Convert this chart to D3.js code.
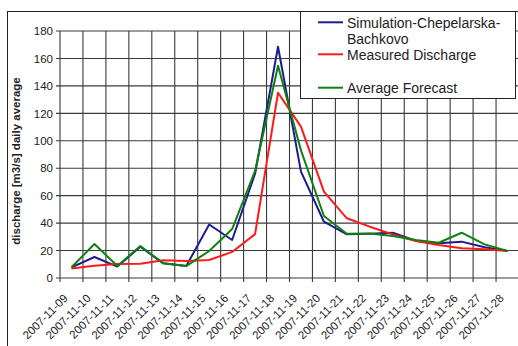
<!DOCTYPE html>
<meta charset="utf-8">
<script src="https://d3js.org/d3.v7.min.js"></script>
<style type="text/css">
body { margin: 0; background: #fff; }
svg { font-family: "Liberation Sans", Arial, sans-serif; display: block; }
</style>
<body>
</body>
<script>

// daily values
var dates = ["2007-11-09", "2007-11-10", "2007-11-11", "2007-11-12", "2007-11-13",
  "2007-11-14", "2007-11-15", "2007-11-16", "2007-11-17", "2007-11-18",
  "2007-11-19", "2007-11-20", "2007-11-21", "2007-11-22", "2007-11-23",
  "2007-11-24", "2007-11-25", "2007-11-26", "2007-11-27", "2007-11-28"];

var simulation = [7.8, 15.3, 8.3, 22.8, 10.7, 8.7, 39, 27.7, 76, 168.5,
  77.5, 41, 31.8, 32.3, 33, 27.2, 25.3, 26.5, 22.4, 19.7];
var measured = [7, 9, 10.2, 10.4, 12.9, 12.4, 13.1, 19, 32, 135,
  110.3, 62.9, 43.5, 37.4, 31.8, 27, 24, 21.6, 20.9, 19.7];
var forecast = [7.8, 24.8, 8.7, 23.3, 10.7, 8.7, 19.7, 35.7, 78, 154.7,
  93, 45.2, 32.3, 32.5, 30.6, 27.7, 25.7, 33, 24.5, 19.7];

var yTicks = [0, 20, 40, 60, 80, 100, 120, 140, 160, 180];

var series = [
  {name: ["Simulation-Chepelarska-", "Bachkovo"], values: simulation, color: "#1c1c8c"},
  {name: ["Measured Discharge"], values: measured, color: "#ff1a1a"},
  {name: ["Average Forecast"], values: forecast, color: "#108010"}
];

var width = 518, height = 346;
var plotLeft = 60, plotTop = 31, plotBottom = 278, plotRight = 519;

var svg = d3.select("body").append("svg")
    .attr("width", width)
    .attr("height", height);

// outer frame
svg.append("rect")
    .attr("x", 7.5).attr("y", 11.5)
    .attr("width", 530).attr("height", 360)
    .attr("fill", "none").attr("stroke", "#222");

var x = d3.scaleBand().domain(dates).range([plotLeft, plotRight]);
var y = d3.scaleLinear().domain([0, 180]).range([plotBottom, plotTop]);

// grid
var grid = svg.append("g").attr("stroke", "#3a3a3a").attr("stroke-width", 1.1);
grid.selectAll(".hgrid")
  .data(yTicks)
  .enter().append("line")
    .attr("x1", plotLeft - 4).attr("x2", plotRight)
    .attr("y1", function(d) { return y(d); })
    .attr("y2", function(d) { return y(d); });

var bounds = dates.map(function(d) { return x(d); }).concat([plotRight]);
grid.selectAll(".vgrid")
  .data(bounds)
  .enter().append("line")
    .attr("x1", function(d) { return d; })
    .attr("x2", function(d) { return d; })
    .attr("y1", plotTop).attr("y2", plotBottom + 4);

// y axis labels
svg.append("g")
    .attr("transform", "translate(" + plotLeft + ",0)")
    .call(d3.axisLeft(y).tickValues(yTicks).tickSize(0).tickPadding(7))
    .call(function(g) { g.select(".domain").remove(); })
    .selectAll("text")
    .attr("font-size", 11.5)
    .attr("font-family", "Liberation Sans, Arial, sans-serif")
    .attr("fill", "#222");

// x axis labels
svg.append("g")
    .attr("transform", "translate(0," + plotBottom + ")")
    .call(d3.axisBottom(x).tickSize(0))
    .call(function(g) { g.select(".domain").remove(); })
    .selectAll("text")
    .attr("font-size", 11.5)
    .attr("font-family", "Liberation Sans, Arial, sans-serif")
    .attr("fill", "#222")
    .attr("text-anchor", "end")
    .attr("dy", null)
    .attr("y", 0)
    .attr("transform", "translate(-3,21) rotate(-45)");

// axis title
svg.append("text")
    .attr("transform", "translate(20," + 161 + ") rotate(-90)")
    .attr("text-anchor", "middle")
    .attr("font-size", 11.5)
    .attr("font-weight", "bold")
    .attr("fill", "#222")
    .text("discharge [m3/s] daily average");

// lines
var line = d3.line()
    .x(function(d, i) { return x(dates[i]) + x.bandwidth() / 2; })
    .y(function(d) { return y(d); });

svg.selectAll(".series")
  .data(series)
  .enter().append("path")
    .attr("class", "series")
    .attr("fill", "none")
    .attr("stroke", function(d) { return d.color; })
    .attr("stroke-width", 2)
    .attr("stroke-linejoin", "round")
    .attr("d", function(d) { return line(d.values); });

// legend
var legend = svg.append("g");
legend.append("rect")
    .attr("x", 300.5).attr("y", 11.5)
    .attr("width", 215).attr("height", 87)
    .attr("fill", "#fff").attr("stroke", "#222");

var legendY = [22.3, 54.3, 87.7];
var items = legend.selectAll(".item")
  .data(series)
  .enter().append("g")
    .attr("class", "item")
    .attr("transform", function(d, i) { return "translate(0," + legendY[i] + ")"; });
items.append("line")
    .attr("x1", 318).attr("x2", 343)
    .attr("stroke", function(d) { return d.color; })
    .attr("stroke-width", 2);
items.append("text")
    .attr("x", 347)
    .attr("y", 5.5)
    .attr("font-size", 14)
    .attr("fill", "#222")
    .selectAll("tspan")
    .data(function(d) { return d.name; })
    .enter().append("tspan")
      .attr("x", 347)
      .attr("dy", function(d, i) { return i === 0 ? 0 : 16.5; })
      .text(function(d) { return d; });

</script>
